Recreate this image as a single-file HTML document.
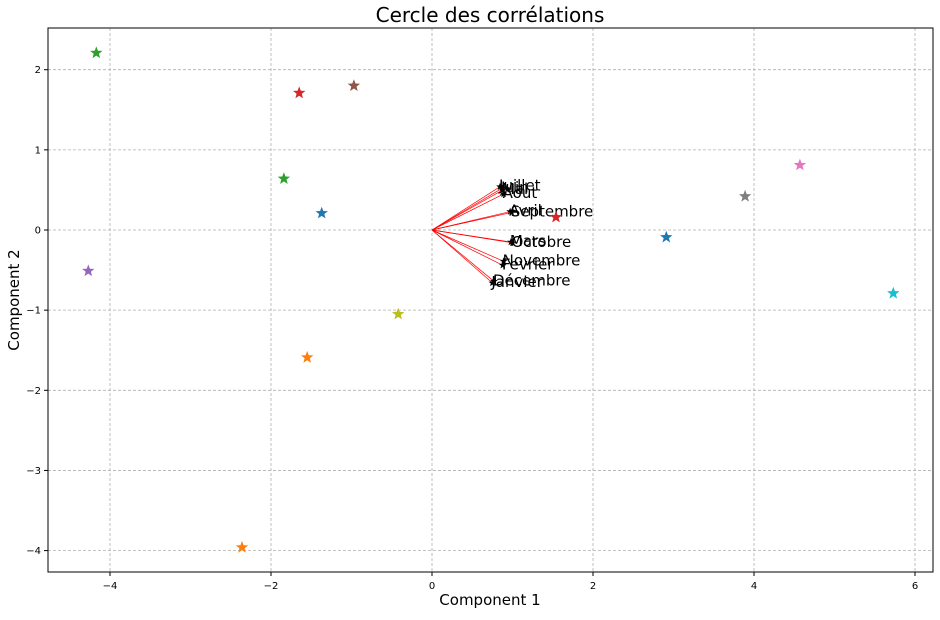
<!DOCTYPE html>
<html><head><meta charset="utf-8"><style>
body{margin:0;background:#fff;font-family:"Liberation Sans","DejaVu Sans",sans-serif}
svg text{font-family:"DejaVu Sans","Liberation Sans",sans-serif}
</style></head><body>
<svg id="chart" width="940" height="615" xmlns="http://www.w3.org/2000/svg">
<rect width="940" height="615" fill="#fff"/>
<g id="grid"></g>
<g id="vectors"></g>
<g id="points"></g>
<rect x="48" y="28" width="885" height="544" fill="none" stroke="#000" stroke-width="1"/>
<g id="ticks"></g>
<text x="490" y="22" text-anchor="middle" font-size="20">Cercle des corrélations</text>
<text x="490" y="605" text-anchor="middle" font-size="15">Component 1</text>
<text x="19" y="300" text-anchor="middle" font-size="15" transform="rotate(-90 19 300)">Component 2</text>
</svg>
<script>
const xTicks=[-4,-2,0,2,4,6];
const yTicks=[-4,-3,-2,-1,0,1,2];
const varNames=["Juillet","Juin","Mai","Aout","Avril","Septembre","Mars","Octobre","Novembre","Fevrier","Decembre","Janvier"];
const varLabels=["Juillet","Juin","Mai","Aout","Avril","Septembre","Mars","Octobre","Novembre","Fevrier","Décembre","Janvier"];
const varX=[0.845,0.87,0.88,0.89,0.97,0.99,0.98,1.0,0.89,0.88,0.77,0.75];
const varY=[0.54,0.52,0.5,0.45,0.23,0.22,-0.15,-0.16,-0.39,-0.44,-0.64,-0.66];
const ptX=[-4.17,-1.65,-0.97,-1.84,-1.37,-4.27,-1.55,-0.42,-2.36,1.54,2.91,3.89,4.57,5.73];
const ptY=[2.21,1.71,1.80,0.64,0.21,-0.51,-1.59,-1.05,-3.96,0.16,-0.09,0.42,0.81,-0.79];
const ptColors=["#2ca02c","#d62728","#8c564b","#2ca02c","#1f77b4","#9467bd","#ff7f0e","#bcbd22","#ff7f0e","#d62728","#1f77b4","#7f7f7f","#e377c2","#17becf"];
const NS="http://www.w3.org/2000/svg";
const sx=v=>432+v*80.5, sy=v=>230-v*80.15;
function mk(t,a,p){const e=document.createElementNS(NS,t);for(const k in a)e.setAttribute(k,a[k]);p.appendChild(e);return e;}
const grid=document.getElementById('grid'),ticks=document.getElementById('ticks');
xTicks.forEach(t=>{const x=sx(t);
 const l=mk('line',{x1:x,x2:x,y1:28,y2:572,stroke:'#b0b0b0','stroke-dasharray':'3,2','stroke-width':0.8},grid);
 
 mk('line',{x1:x,x2:x,y1:572,y2:576,stroke:'#000'},ticks);
 const tx=mk('text',{x:x,y:589,'text-anchor':'middle','font-size':10},ticks);tx.textContent=t<0?'−'+(-t):t;
 });
yTicks.forEach(t=>{const y=sy(t);
 const l=mk('line',{x1:48,x2:933,y1:y,y2:y,stroke:'#b0b0b0','stroke-dasharray':'3,2','stroke-width':0.8},grid);
 
 mk('line',{x1:44,x2:48,y1:y,y2:y,stroke:'#000'},ticks);
 const tx=mk('text',{x:41,y:y+3.5,'text-anchor':'end','font-size':10},ticks);tx.textContent=t<0?'−'+(-t):t;
 });
function star(cx,cy,r,fill,parent){let p=[];for(let i=0;i<10;i++){const a=-Math.PI/2+i*Math.PI/5,rr=i%2?r*0.42:r;p.push((cx+rr*Math.cos(a)).toFixed(1)+','+(cy+rr*Math.sin(a)).toFixed(1));}
 return mk('polygon',{points:p.join(' '),fill:fill},parent);}
const vg=document.getElementById('vectors');
varX.forEach((v,i)=>{const x=sx(v),y=sy(varY[i]);
 const l=mk('line',{x1:sx(0),y1:sy(0),x2:x,y2:y,stroke:'#ff0000','stroke-width':0.7},vg);
 
 const s=star(x,y,4,'#000',vg);
 const t=mk('text',{x:x-1,y:y+4,'font-size':15},vg);t.textContent=varLabels[i];
 });
const pg=document.getElementById('points');
ptX.forEach((v,i)=>{const s=star(sx(v),sy(ptY[i]),6.5,ptColors[i],pg);
 });
</script>
</body></html>
